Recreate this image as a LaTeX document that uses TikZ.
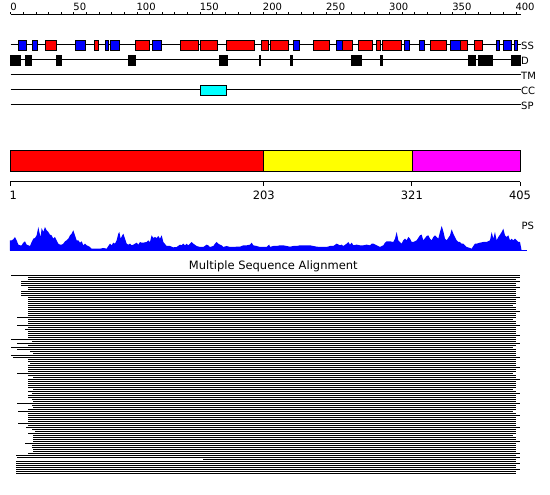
\documentclass[tikz,border=0pt]{standalone}
\usepackage{fontspec}
\setmainfont{DejaVu Sans}
\definecolor{pblue}{RGB}{0,0,255}
\definecolor{pred}{RGB}{255,0,0}
\definecolor{pcyan}{RGB}{0,255,255}
\definecolor{pyellow}{RGB}{255,255,0}
\definecolor{pmag}{RGB}{255,0,255}
\begin{document}
\begin{tikzpicture}[x=1pt,y=-1pt,
  trackline/.style={line width=1pt,black},
  ssbox/.style={draw=black,line width=0.8pt},
  lab/.style={font=\fontsize{10}{12}\selectfont,inner sep=0pt},
  biglab/.style={font=\fontsize{11.5}{13}\selectfont,inner sep=0pt}]
\useasboundingbox[fill=white] (0,0) rectangle (550,495);

% ruler
\draw[line width=1pt] (10.7,14.5) -- (520.7,14.5);
\foreach \v in {0,10,...,400} \draw[line width=0.8pt] ({10.7+1.263*\v},14.5) -- ++(0,-2.6);
\foreach \v in {0,50,...,400} \node[lab,anchor=base west] (r\v) at ({10.7+1.263*\v-0.6},10.3) {\v};

% tracks
\foreach \y in {45,60,75,90,105} \draw[trackline] (10.5,\y) -- (520.5,\y);
\node[lab,anchor=west] (tSS) at (521,45.5) {SS};
\node[lab,anchor=west] (tD) at (521,60.5) {D};
\node[lab,anchor=west] (tTM) at (521,75.5) {TM};
\node[lab,anchor=west] (tCC) at (521,90.5) {CC};
\node[lab,anchor=west] (tSP) at (521,105.5) {SP};

% SS boxes
\foreach \a/\b/\c in {18.3/26.7/pblue,32.3/37.7/pblue,45.3/56.3/pred,75.3/85.7/pblue,
  94.3/98.7/pred,105/108.7/pblue,110.3/119.7/pblue,135.3/149.3/pred,152.3/161.7/pblue,
  180.3/198.7/pred,200/217.7/pred,226.3/254.3/pred,261.3/268.7/pred,270.3/288.3/pred,
  293/299.7/pblue,313.3/329.7/pred,336.3/342.3/pblue,342.3/352.3/pred,358/372.3/pred,
  376/380.3/pred,382.3/401.3/pred,404.3/409.3/pblue,419.3/424.5/pblue,430.5/446.5/pred,
  450.3/460.5/pblue,460.5/467.3/pred,474.5/482.5/pred,496.3/499.5/pblue,503.3/511.7/pblue,
  514.3/517.3/pblue}
  \filldraw[ssbox,fill=\c] (\a,40.5) rectangle (\b,50.3);

% D boxes
\foreach \a/\b in {10.7/20.7,25/31,56.3/58,59/61.7,128.3/135.7,219/227,259.3/260.7,
  290/292.3,351/361,380/382.7,468/475.5,478/485,485.7/492,511.2/520.7}
  \filldraw[ssbox,fill=black] (\a,55.5) rectangle (\b,65.5);

% CC box
\filldraw[ssbox,fill=pcyan] (200,85.5) rectangle (226.7,95.3);

% domain bar
\filldraw[ssbox,fill=pred] (10,150.5) rectangle (263.8,171);
\filldraw[ssbox,fill=pyellow] (263.8,150.5) rectangle (411.9,171);
\filldraw[ssbox,fill=pmag] (411.9,150.5) rectangle (520,171);
\draw[line width=1pt] (10,182) -- (520,182);
\foreach \x in {10,263.8,411.9,520} \draw[line width=1pt] (\x,182) -- (\x,186);
\node[biglab,anchor=base west] (b1) at (9.3,200) {1};
\node[biglab,anchor=base] (b203) at (263.8,200) {203};
\node[biglab,anchor=base] (b321) at (411.9,200) {321};
\node[biglab,anchor=base] (b405) at (520,200) {405};

% PS profile
\begin{scope}[shift={(0,222)},scale=1/3]
\fill[pblue] (30,86) -- (30,55) -- (35,55) -- (40,52) -- (45,45) -- (50,55) -- (55,68) -- (60,70) -- (65,70) -- (70,62) -- (75,58) -- (80,68) -- (90,72) -- (95,60) -- (100,50) -- (105,48) -- (110,40) -- (115,15) -- (118,30) -- (122,45) -- (125,18) -- (130,30) -- (135,15) -- (140,25) -- (145,30) -- (150,38) -- (155,40) -- (160,50) -- (165,45) -- (170,55) -- (175,65) -- (180,68) -- (185,68) -- (190,65) -- (195,58) -- (200,55) -- (205,50) -- (210,40) -- (215,35) -- (220,25) -- (225,40) -- (230,55) -- (235,55) -- (240,62) -- (245,58) -- (250,70) -- (255,65) -- (260,70) -- (265,72) -- (270,75) -- (275,80) -- (280,80) -- (290,80) -- (300,80) -- (310,78) -- (320,80) -- (325,72) -- (330,65) -- (335,70) -- (340,62) -- (345,65) -- (350,55) -- (355,35) -- (358,30) -- (362,50) -- (367,40) -- (370,35) -- (375,50) -- (380,65) -- (385,68) -- (390,65) -- (395,70) -- (400,68) -- (405,65) -- (410,62) -- (415,68) -- (420,60) -- (425,62) -- (430,62) -- (440,60) -- (445,55) -- (450,60) -- (455,40) -- (460,48) -- (465,45) -- (470,48) -- (475,42) -- (480,50) -- (485,40) -- (490,60) -- (500,72) -- (510,72) -- (520,76) -- (530,75) -- (540,68) -- (545,70) -- (550,65) -- (555,70) -- (560,65) -- (565,70) -- (570,65) -- (575,60) -- (580,65) -- (590,72) -- (600,75) -- (610,75) -- (620,68) -- (625,70) -- (630,75) -- (640,72) -- (645,65) -- (650,60) -- (655,65) -- (660,68) -- (665,70) -- (670,75) -- (680,72) -- (690,75) -- (700,75) -- (710,74) -- (720,74) -- (730,70) -- (740,70) -- (750,68) -- (755,62) -- (760,70) -- (770,72) -- (780,75) -- (790,75) -- (800,75) -- (805,70) -- (808,68) -- (810,75) -- (820,75) -- (825,75) -- (825,86) -- cycle;
\end{scope}
\begin{scope}[shift={(270,222)},scale=1/3]
\fill[pblue] (0,86) -- (0,75) -- (10,72) -- (20,72) -- (30,70) -- (40,70) -- (50,72) -- (60,74) -- (70,72) -- (80,72) -- (90,70) -- (100,70) -- (110,70) -- (120,70) -- (130,72) -- (140,74) -- (150,75) -- (160,75) -- (170,75) -- (180,72) -- (190,72) -- (200,65) -- (210,70) -- (215,68) -- (220,72) -- (230,65) -- (235,60) -- (240,68) -- (245,62) -- (250,70) -- (260,68) -- (270,70) -- (280,70) -- (290,68) -- (300,70) -- (305,65) -- (310,65) -- (320,70) -- (330,75) -- (340,70) -- (345,62) -- (350,58) -- (360,58) -- (370,60) -- (375,50) -- (380,30) -- (385,55) -- (390,60) -- (395,65) -- (400,55) -- (405,50) -- (410,55) -- (415,45) -- (420,50) -- (425,60) -- (430,60) -- (440,55) -- (450,40) -- (455,38) -- (460,55) -- (470,42) -- (475,40) -- (480,50) -- (485,55) -- (490,45) -- (495,40) -- (500,45) -- (505,50) -- (510,30) -- (515,12) -- (520,28) -- (525,50) -- (530,55) -- (540,40) -- (545,22) -- (550,35) -- (555,45) -- (560,55) -- (565,60) -- (570,60) -- (575,65) -- (580,65) -- (590,75) -- (600,78) -- (605,80) -- (610,72) -- (615,65) -- (620,65) -- (630,62) -- (640,60) -- (650,60) -- (660,55) -- (665,30) -- (670,50) -- (675,30) -- (680,55) -- (685,45) -- (690,38) -- (695,30) -- (700,20) -- (705,40) -- (710,45) -- (715,40) -- (720,55) -- (725,50) -- (730,55) -- (735,50) -- (740,55) -- (745,60) -- (750,60) -- (755,86) -- cycle;
\end{scope}
\draw[pblue,line width=1pt] (10,250.2) -- (526.7,250.2);
\node[lab,anchor=west] (tPS) at (521.5,226) {PS};

% MSA
\node[biglab,anchor=base] (msa) at (273.3,269.8) {Multiple Sequence Alignment};
\foreach \k/\a/\b in {0/11/520,1/28.3/520,2/28.3/516,3/21/520,4/21/516,5/21/516,6/28.3/520,7/28.3/516,8/21/516,9/21/516,
 10/21/516,11/28.3/520,12/28.3/516,13/28.3/516,14/28.3/516,15/28.3/513,16/28.3/516,17/28.3/516,18/28.3/520,19/28.3/516,
 20/28.3/516,21/16.7/516,22/28.3/513,23/28.3/516,24/28.3/516,25/16.7/520,26/28.3/516,27/25/516,28/28.3/516,29/28.3/516,
 30/28.3/520,31/28.3/516,32/11/516,33/32.3/516,34/16.7/520,35/28.3/516,36/11/513,37/16.7/516,38/30/516,39/33.3/516,
 40/11/516,41/12.7/520,42/28.3/516,43/28.3/516,44/30/516,45/28.3/516,46/28.3/520,47/28.3/516,48/28.3/516,49/16.7/513,
 50/28.3/516,51/33.3/516,52/28.3/520,53/28.3/516,54/28.3/516,55/28.3/516,56/28.3/516,57/33.3/513,58/28.3/516,59/31.7/520,
 60/28.3/516,61/28.3/516,62/31.7/516,63/33.3/516,64/16.7/520,65/31.7/516,66/33.3/516,67/28.3/516,68/18.3/513,69/28.3/516,
 70/28.3/520,71/28.3/516,72/28.3/516,73/28.3/516,74/18.3/516,75/28.3/516,76/26/520,77/31.7/516,78/35/516,79/28.3/516,
 80/33.3/513,81/33.3/516,82/33.3/516,83/33.3/520,84/25/516,85/31.7/516,86/31.7/516,87/33.3/516,88/33.3/516,89/28.3/520,
 90/15.7/516,91/16.7/520,92/203.3/516,93/15.7/516,94/15.7/520,95/15.7/516,96/15.7/516,97/15.7/520,98/15.7/516,99/15.7/516}
  \fill[black] (\a,275+2*\k) rectangle (\b,276.1+2*\k);
\end{tikzpicture}
\end{document}
